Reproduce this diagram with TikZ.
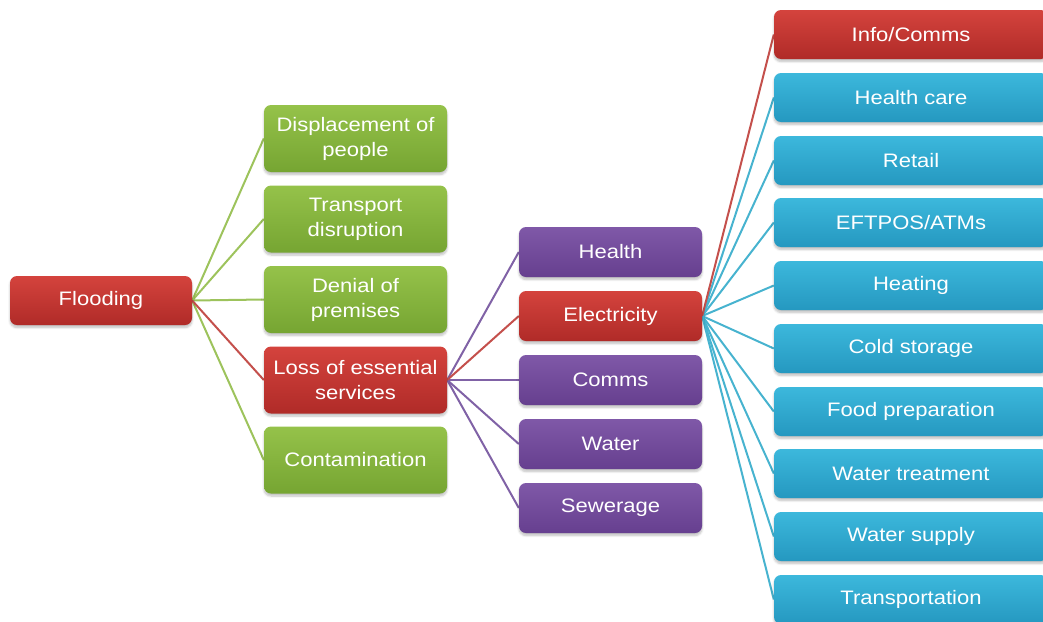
\documentclass[tikz,border=0pt]{standalone}
\usepackage{fontspec}
\setmainfont{Liberation Sans}[FakeStretch=1.13]
\usetikzlibrary{backgrounds,shadows.blur}
\definecolor{redT}{HTML}{D4433D}
\definecolor{redB}{HTML}{B02B28}
\definecolor{grnT}{HTML}{95C24A}
\definecolor{grnB}{HTML}{76A532}
\definecolor{purT}{HTML}{7F58A8}
\definecolor{purB}{HTML}{663F8F}
\definecolor{bluT}{HTML}{3CB8DC}
\definecolor{bluB}{HTML}{2598C0}
\definecolor{redL}{HTML}{C4504C}
\definecolor{grnL}{HTML}{9DC35C}
\definecolor{purL}{HTML}{8062A6}
\definecolor{bluL}{HTML}{47B3CF}
\tikzset{
  box/.style={rounded corners=7pt, text=white, align=center,
    font=\fontsize{19.5}{25}\selectfont, inner sep=0pt,
    blur shadow={shadow xshift=0pt, shadow yshift=-2.5pt, shadow blur steps=6, shadow opacity=25}},
  redbox/.style={box, top color=redT, bottom color=redB},
  grnbox/.style={box, top color=grnT, bottom color=grnB, minimum width=183pt, minimum height=67pt},
  purbox/.style={box, top color=purT, bottom color=purB, minimum width=183pt, minimum height=50pt},
  blubox/.style={box, top color=bluT, bottom color=bluB, minimum width=274pt, minimum height=49pt},
  link/.style={line width=2pt},
}
\begin{document}
\begin{tikzpicture}[x=1pt,y=-1pt]
\useasboundingbox (0,0) rectangle (1043,621);
\clip (0,0) rectangle (1043,621);
% level 0
\node[redbox, minimum width=182pt, minimum height=49pt] (flood) at (101,300.5) {Flooding};
% level 1
\node[grnbox] (disp) at (355.5,138.5) {Displacement of\\people};
\node[grnbox] (trans) at (355.5,219) {Transport\\disruption};
\node[grnbox] (deny) at (355.5,299.5) {Denial of\\premises};
\node[grnbox, top color=redT, bottom color=redB] (loss) at (355.5,380) {Loss of essential\\services};
\node[grnbox] (cont) at (355.5,460) {Contamination};
% level 2
\node[purbox] (health) at (610.5,252) {Health};
\node[purbox, top color=redT, bottom color=redB] (elec) at (610.5,316) {Electricity};
\node[purbox] (comms) at (610.5,380) {Comms};
\node[purbox] (water) at (610.5,444) {Water};
\node[purbox] (sew) at (610.5,508) {Sewerage};
% level 3
\node[blubox, top color=redT, bottom color=redB] (info) at (911,34.5) {Info/Comms};
\node[blubox] (hcare) at (911,97.5) {Health care};
\node[blubox] (retail) at (911,160.5) {Retail};
\node[blubox] (eft) at (911,222.5) {EFTPOS/ATMs};
\node[blubox] (heat) at (911,285.5) {Heating};
\node[blubox] (cold) at (911,348.5) {Cold storage};
\node[blubox] (food) at (911,411.5) {Food preparation};
\node[blubox] (wtreat) at (911,473.5) {Water treatment};
\node[blubox] (wsup) at (911,536.5) {Water supply};
\node[blubox] (tport) at (911,599.5) {Transportation};
\begin{scope}[on background layer]
  \foreach \c in {disp,trans,deny,cont} \draw[link, grnL] (flood.east) -- (\c.west);
  \draw[link, redL] (flood.east) -- (loss.west);
  \foreach \c in {health,comms,water,sew} \draw[link, purL] (loss.east) -- (\c.west);
  \draw[link, redL] (loss.east) -- (elec.west);
  \foreach \c in {hcare,retail,eft,heat,cold,food,wtreat,wsup,tport} \draw[link, bluL] (elec.east) -- (\c.west);
  \draw[link, redL] (elec.east) -- (info.west);
\end{scope}
\end{tikzpicture}
\end{document}
